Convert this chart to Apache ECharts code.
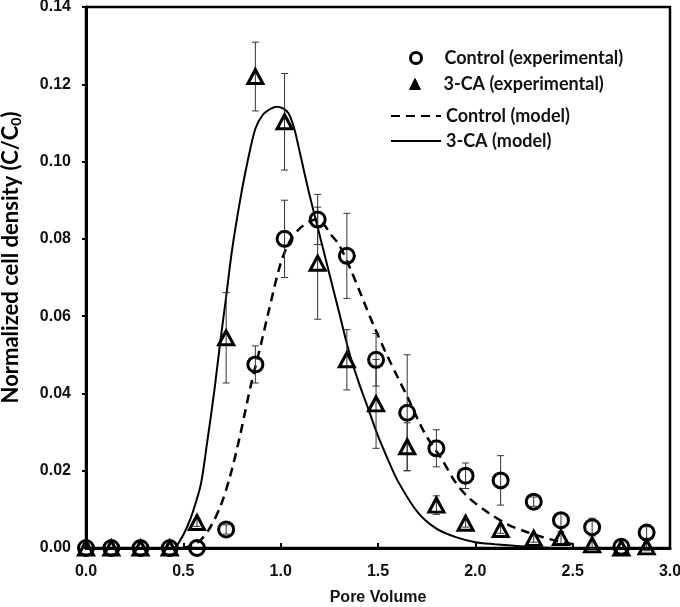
<!DOCTYPE html>
<html><head><meta charset="utf-8">
<script src="https://cdn.jsdelivr.net/npm/echarts@6/dist/echarts.min.js"></script>
<style>html,body{margin:0;padding:0;background:#fff}#c{width:680px;height:607px}</style>
</head><body><div id="c"></div>
<script>
// Pore volume of sampling points
var poreVolume = [0, 0.13, 0.28, 0.43, 0.57, 0.72, 0.87, 1.02, 1.19, 1.34, 1.49, 1.65, 1.80, 1.95, 2.13, 2.30, 2.44, 2.60, 2.75, 2.88];
var controlExp = [0, 0, 0, 0, 0, 0.0048, 0.0475, 0.080, 0.085, 0.0756, 0.0487, 0.035, 0.0258, 0.0187, 0.0175, 0.012, 0.0072, 0.0054, 0.0003, 0.004];
var controlErr = [0, 0, 0, 0, 0, 0.0012, 0.0048, 0.010, 0.0065, 0.011, 0.0068, 0.015, 0.0048, 0.0033, 0.0064, 0.0012, 0.002, 0.0023, 0, 0.0015];
var caExp = [0, 0, 0, 0, 0.0066, 0.0544, 0.122, 0.1103, 0.0737, 0.0487, 0.0373, 0.0262, 0.0111, 0.0064, 0.0048, 0.0025, 0.0027, 0.0008, 0.0, 0.0003];
var caErr = [0, 0, 0, 0, 0.001, 0.0117, 0.0089, 0.0125, 0.0145, 0.0078, 0.0115, 0.0062, 0.0024, 0.001, 0.001, 0.001, 0.0015, 0.001, 0, 0.001];

var caModelX = [0, 0.45, 0.485, 0.52, 0.55, 0.59, 0.62, 0.66, 0.69, 0.72, 0.75, 0.79, 0.83, 0.87, 0.91, 0.95, 0.98, 1.01, 1.04, 1.07, 1.10, 1.15, 1.20, 1.25, 1.30, 1.35, 1.40, 1.45, 1.50, 1.55, 1.60, 1.70, 1.80, 1.90, 2.00, 2.10, 2.20, 2.30, 2.40];
var caModelY = [0, 0, 0.0021, 0.0055, 0.0095, 0.0165, 0.0265, 0.041, 0.0535, 0.065, 0.077, 0.0895, 0.1, 0.1085, 0.1122, 0.1137, 0.1142, 0.1138, 0.1125, 0.1085, 0.102, 0.091, 0.081, 0.071, 0.061, 0.051, 0.043, 0.036, 0.029, 0.023, 0.0175, 0.0095, 0.005, 0.0028, 0.0015, 0.001, 0.0006, 0.0002, 0];

var controlModelX = [0.5, 0.55, 0.59, 0.64, 0.69, 0.74, 0.79, 0.845, 0.90, 0.94, 1.0, 1.05, 1.10, 1.15, 1.18, 1.22, 1.26, 1.30, 1.36, 1.41, 1.48, 1.55, 1.60, 1.65, 1.74, 1.83, 1.89, 1.96, 2.07, 2.17, 2.25, 2.34, 2.42, 2.50];
var controlModelY = [0, 0.0008, 0.0021, 0.0055, 0.0107, 0.0185, 0.0288, 0.0417, 0.053, 0.0616, 0.0737, 0.0797, 0.0828, 0.0845, 0.085, 0.0838, 0.081, 0.0785, 0.072, 0.0659, 0.0573, 0.0495, 0.0443, 0.0392, 0.0297, 0.0228, 0.0176, 0.0133, 0.009, 0.006, 0.0044, 0.0029, 0.0018, 0.001];

var seriesNames = ['Control (experimental)', '3-CA (experimental)', 'Control (model)', '3-CA (model)'];

function zip(xs, ys){ return xs.map(function(x,i){ return [x, ys[i]]; }); }
function errData(xs, ys, es){
  var out=[]; xs.forEach(function(x,i){ if(es[i]>0) out.push([x, ys[i]-es[i], ys[i]+es[i]]); }); return out;
}
function errRender(params, api){
  var x=api.value(0), lo=api.value(1), hi=api.value(2);
  var a=api.coord([x,hi]), b=api.coord([x,lo]), w=3.5;
  var st={stroke:'#333', lineWidth:1};
  return {type:'group', children:[
    {type:'line', shape:{x1:a[0],y1:a[1],x2:b[0],y2:b[1]}, style:st},
    {type:'line', shape:{x1:a[0]-w,y1:a[1],x2:a[0]+w,y2:a[1]}, style:st},
    {type:'line', shape:{x1:b[0]-w,y1:b[1],x2:b[0]+w,y2:b[1]}, style:st}
  ]};
}
var FONT='Liberation Sans';
var legendText={fontFamily:'Lato', fontWeight:'bold', fontSize:18, color:'#111', lineHeight:20};
function mkLegend(name, left, top, w, h, extra){
  return {show:true, data:[Object.assign({name:name}, extra||{})], left:left, top:top, padding:0,
    itemWidth:w, itemHeight:h, textStyle:Object.assign({}, legendText), selectedMode:false};
}
var chart=echarts.init(document.getElementById('c'), null, {renderer:'canvas'});
chart.setOption({
  animation:false,
  backgroundColor:'#fff',
  grid:{left:86, right:10, top:7, bottom:59, containLabel:false, outerBoundsMode:'none',
    show:true, borderColor:'#000', borderWidth:2.5, backgroundColor:'transparent'},
  legend:[
    mkLegend(seriesNames[0], 409, 48, 11, 11, {icon:'circle', itemStyle:{color:'rgba(0,0,0,0)', borderColor:'#000', borderWidth:3}, textStyle:Object.assign({}, legendText, {padding:[0,0,0,18]})}),
    mkLegend(seriesNames[1], 409, 74, 11, 11, {icon:'triangle', itemStyle:{color:'#000', borderColor:'#000', borderWidth:1}, textStyle:Object.assign({}, legendText, {padding:[0,0,0,18]})}),
    mkLegend(seriesNames[2], 390, 106, 50, 14, {itemStyle:{opacity:0}}),
    mkLegend(seriesNames[3], 390, 131, 50, 14, {itemStyle:{opacity:0}})
  ],
  xAxis:{type:'value', min:0, max:3, interval:0.5,
    name:'Pore Volume', nameLocation:'middle', nameGap:42,
    nameTextStyle:{fontFamily:FONT, fontWeight:'bold', fontSize:16, color:'#111'},
    axisLine:{show:true, onZero:false, lineStyle:{color:'#000', width:3}},
    axisTick:{show:true, inside:true, length:5, lineStyle:{color:'#000', width:2}},
    axisLabel:{fontFamily:FONT, fontWeight:'bold', fontSize:16, color:'#111', margin:16, formatter:function(v){return v.toFixed(1);}},
    splitLine:{show:false}},
  yAxis:{type:'value', min:0, max:0.14, interval:0.02,
    name:'Normalized cell density (C/C{s|0})', nameLocation:'middle', nameGap:63,
    nameTextStyle:{fontFamily:'Lato', fontWeight:'bold', fontSize:22, color:'#000', padding:[0,0,0,40],
      rich:{s:{fontFamily:'Lato', fontWeight:'bold', fontSize:14, color:'#000', verticalAlign:'bottom', padding:[11,0,0,0]}}},
    axisLine:{show:true, onZero:false, lineStyle:{color:'#000', width:3}},
    axisTick:{show:true, inside:false, length:4, lineStyle:{color:'#000', width:2}},
    axisLabel:{fontFamily:FONT, fontWeight:'bold', fontSize:16, color:'#111', margin:15, formatter:function(v){return v.toFixed(2);}},
    splitLine:{show:false}},
  series:[
    {name:seriesNames[2], type:'line', data:zip(controlModelX, controlModelY), smooth:0.3, showSymbol:false, symbol:'none',
      lineStyle:{color:'#000', width:2.5, type:[9,6]}, itemStyle:{color:'#000'}, z:3},
    {name:seriesNames[3], type:'line', data:zip(caModelX, caModelY), smooth:0.3, showSymbol:false, symbol:'none',
      lineStyle:{color:'#000', width:2}, itemStyle:{color:'#000'}, z:3},
    {name:'errC', type:'custom', renderItem:errRender, data:errData(poreVolume, controlExp, controlErr), z:4, encode:{x:0, y:[1,2]}},
    {name:'errCA', type:'custom', renderItem:errRender, data:errData(poreVolume, caExp, caErr), z:4, encode:{x:0, y:[1,2]}},
    {name:seriesNames[0], type:'scatter', data:zip(poreVolume, controlExp), symbol:'circle', symbolSize:15,
      itemStyle:{color:'rgba(0,0,0,0)', borderColor:'#000', borderWidth:3, opacity:1}, z:5},
    {name:seriesNames[1], type:'scatter', data:zip(poreVolume, caExp), symbol:'triangle', symbolSize:[15,14],
      itemStyle:{color:'rgba(0,0,0,0)', borderColor:'#000', borderWidth:3, opacity:1}, z:5}
  ]
});
</script></body></html>
